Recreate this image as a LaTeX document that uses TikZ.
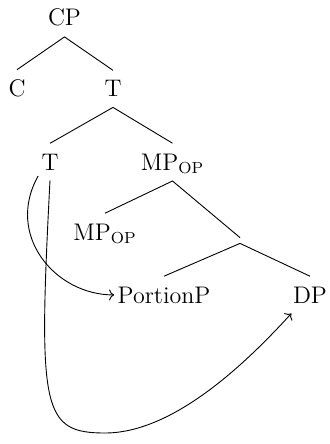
\documentclass[tikz,border=0pt]{standalone}
\usetikzlibrary{arrows.meta}
\begin{document}
\begin{tikzpicture}[x=0.5pt,y=-0.5pt,
  lab/.style={anchor=base,inner xsep=1.5pt,inner ysep=5pt,font=\fontsize{12pt}{14pt}\selectfont},
  branch/.style={line width=0.45pt},
  move/.style={line width=0.45pt,->}]
\useasboundingbox (0,0) rectangle (330,444);
\node[lab] (cp) at (64.5,26) {CP};
\node[lab] (c) at (17,97) {C};
\node[lab] (t1) at (113,97) {T};
\node[lab] (t2) at (50,170) {T};
\node[lab] (mp1) at (172.5,170) {MP$_{\mathrm{OP}}$};
\node[lab] (mp2) at (105,240) {MP$_{\mathrm{OP}}$};
\node[inner sep=1.25pt] (e) at (240,240.5) {};
\node[lab] (pp) at (164,303) {PortionP};
\node[lab] (dp) at (310,303) {DP};
\draw[branch] (c.north) -- (cp.south) -- (t1.north);
\draw[branch] (t2.north) -- (t1.south) -- (mp1.north);
\draw[branch] (mp2.north) -- ([yshift=1.5pt]mp1.south) -- (e.north);
\draw[branch] (pp.north) -- (e.south) -- (dp.north);
\draw[move] (t2.230) .. controls (5,235) and (55,295) .. (pp.west);
\draw[move] (t2.south) .. controls (38,410) and (42,433) .. (105,433)
  .. controls (170,433) and (240,370) .. (dp.225);
\end{tikzpicture}
\end{document}
